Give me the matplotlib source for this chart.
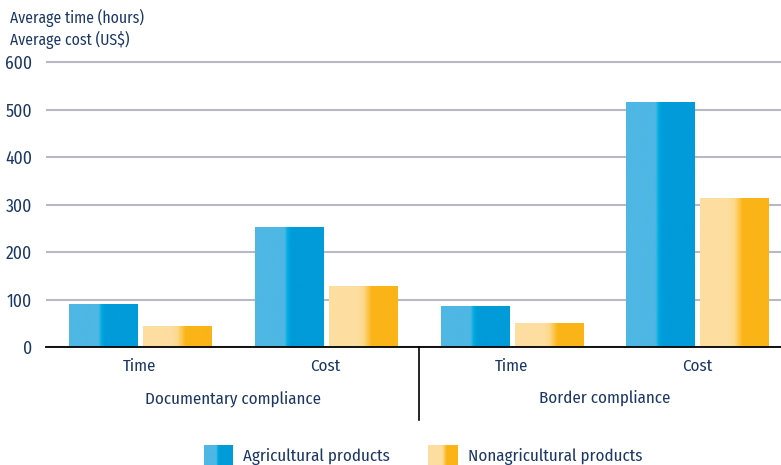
import numpy as np
import matplotlib
matplotlib.use("Agg")
import matplotlib.pyplot as plt
from matplotlib.colors import LinearSegmentedColormap

categories = ["Time", "Cost", "Time", "Cost"]
groups = ["Documentary compliance", "Border compliance"]
series_names = ["Agricultural products", "Nonagricultural products"]
agri = [91, 254, 87, 516]
nonagri = [45, 129, 51, 314]
yticks = [0, 100, 200, 300, 400, 500, 600]

TXT = "#1b3765"
FONT = ["Fira Sans Condensed", "Roboto Condensed", "DejaVu Sans"]
plt.rcParams["font.family"] = FONT
FS = 12.2

blue_cmap = LinearSegmentedColormap.from_list(
    "b", [(0, "#4eb7e4"), (0.43, "#4eb7e4"), (0.47, "#00aee2"), (0.52, "#009bd9"), (1, "#009bd9")])
orange_cmap = LinearSegmentedColormap.from_list(
    "o", [(0, "#fddea0"), (0.42, "#fddea0"), (0.5, "#fdd98a"), (0.62, "#fbb417"), (1, "#fbb417")])

W, H = 781, 465
fig = plt.figure(figsize=(W / 100, H / 100), dpi=100)
ax_left = 46 / W
ax_bottom = (H - 347.3) / H
ax_top_px = 347.3 - 285 * (610 / 600)
ax_h_px = 347.3 - ax_top_px
ax = fig.add_axes([ax_left, ax_bottom, 1 - ax_left, ax_h_px / H])

x = np.arange(len(categories))
bw = 0.366
off = 0.199
grad = np.linspace(0, 1, 256).reshape(1, -1)

for vals, sign, cmap in [(agri, -1, blue_cmap), (nonagri, 1, orange_cmap)]:
    bars = ax.bar(x + sign * off, vals, width=bw, color="none", zorder=3)
    for b in bars:
        x0, y0 = b.get_x(), b.get_y()
        im = ax.imshow(grad, cmap=cmap, aspect="auto", zorder=3,
                       extent=[x0, x0 + b.get_width(), y0, y0 + b.get_height()])
        im.set_clip_path(b)

ax.set_xlim(-0.505, 3.45)
ax.set_ylim(0, 610)
ax.set_yticks(yticks)
ax.set_yticklabels([str(t) for t in yticks], fontsize=12.6, color=TXT)
ax.tick_params(axis="y", length=0, pad=10)
ax.set_xticks([])
ax.yaxis.grid(True, color="#b9b8c6", linewidth=1.5, zorder=0)
ax.set_axisbelow(True)
for s in ["top", "right", "left"]:
    ax.spines[s].set_visible(False)
ax.spines["bottom"].set_color("#000000")
ax.spines["bottom"].set_linewidth(1.3)
ax.spines["bottom"].set_zorder(4)

trans = ax.get_xaxis_transform()
for xi, c in zip(x, categories):
    ax.text(xi, -19 / ax_h_px, c, transform=trans, ha="center", va="center",
            fontsize=FS, color=TXT)
for gi, g in enumerate(groups):
    ax.text(2 * gi + 0.5, -51 / ax_h_px, g, transform=trans, ha="center", va="center",
            fontsize=FS, color=TXT)
ax.plot([1.5, 1.5], [0, -73 / ax_h_px], transform=trans, color="#000000",
        linewidth=1.2, clip_on=False)

fig.text(10 / W, 1 - 18 / H, "Average time (hours)", fontsize=11.3, color=TXT, va="center")
fig.text(10 / W, 1 - 40 / H, "Average cost (US$)", fontsize=11.3, color=TXT, va="center")

# legend
for name, cmap, px, tx in [(series_names[0], blue_cmap, 204, 243),
                           (series_names[1], orange_cmap, 428, 468)]:
    sw = fig.add_axes([px / W, (H - 465) / H, 29 / W, 20 / H])
    sw.imshow(grad, cmap=cmap, aspect="auto")
    sw.set_axis_off()
    fig.text(tx / W, 1 - 456 / H, name, fontsize=FS, color=TXT, va="center")

fig.savefig("out.png", dpi=100)
